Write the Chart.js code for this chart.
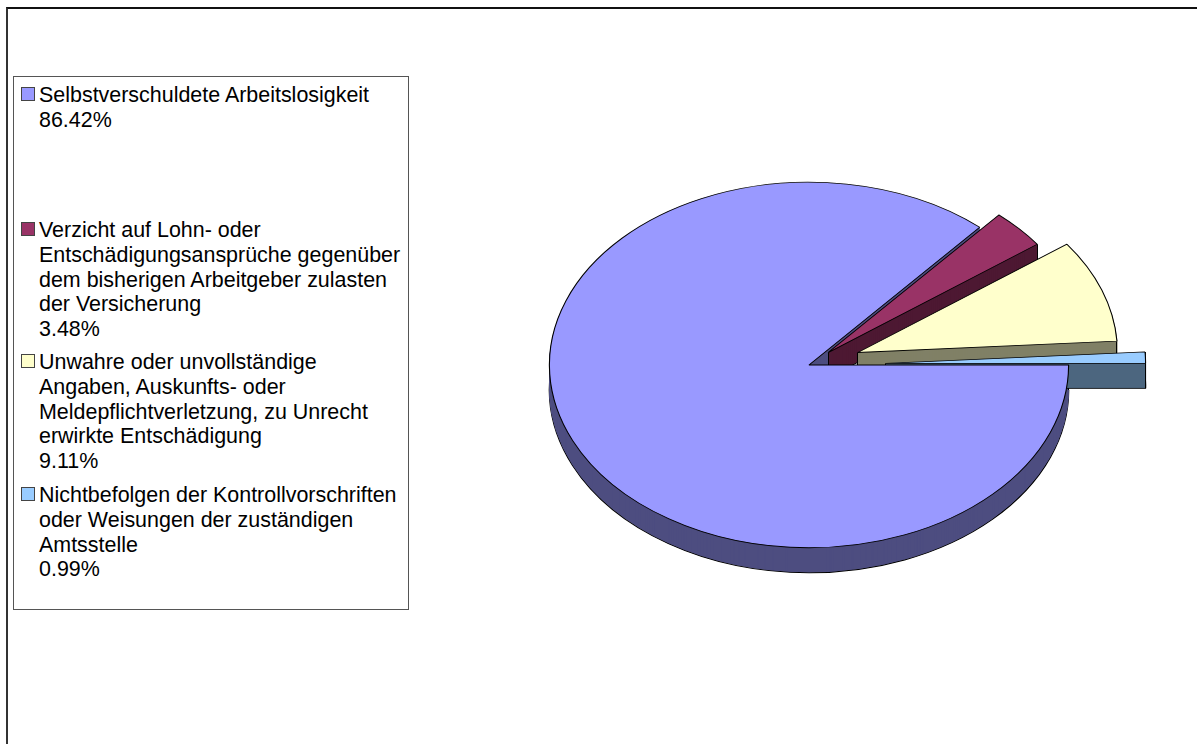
<!DOCTYPE html>
<html>
<head>
<meta charset="utf-8">
<script src="https://cdn.jsdelivr.net/npm/chart.js@4"></script>
<style>
html,body{margin:0;padding:0;background:#fff;width:1197px;height:744px;overflow:hidden}
#frame{position:absolute;left:6px;top:7px;width:1191px;height:737px;border-left:2px solid #333;border-top:2px solid #111;box-sizing:border-box}
#wrap{position:absolute;left:0;top:0;width:1197px;height:744px}
#legend{position:absolute;left:13px;top:76px;width:396px;height:534px;box-sizing:border-box;border:1px solid #555;background:#fff;font-family:"Liberation Sans",Arial,sans-serif;font-size:21.45px;line-height:24.8px;color:#000}
.item{position:absolute;left:25px;white-space:pre}
.sw{position:absolute;left:7px;width:14px;height:14px;box-sizing:border-box;border:1px solid #444}
</style>
</head>
<body>
<div id="frame"></div>
<div id="wrap"><canvas id="c" width="1197" height="744"></canvas></div>
<div id="legend"></div>
<script>
const categories = [
  ["Selbstverschuldete Arbeitslosigkeit"],
  ["Verzicht auf Lohn- oder", "Entschädigungsansprüche gegenüber", "dem bisherigen Arbeitgeber zulasten", "der Versicherung"],
  ["Unwahre oder unvollständige", "Angaben, Auskunfts- oder", "Meldepflichtverletzung, zu Unrecht", "erwirkte Entschädigung"],
  ["Nichtbefolgen der Kontrollvorschriften", "oder Weisungen der zuständigen", "Amtsstelle"]
];
const values = [86.42, 3.48, 9.11, 0.99];
const topColors = ["#9999FF", "#993366", "#FFFFCC", "#99CCFF"];
const wallColors = ["#4D4D80", "#4D1933", "#808066", "#4D6680"];
const explode = [0, 26, 52, 77];
const legendTops = [6, 141, 273, 406];

const TILT = 0.704, DEPTH = 25;

const legendEl = document.getElementById('legend');
categories.forEach((lines, i) => {
  const t = document.createElement('div');
  t.className = 'item';
  t.style.top = legendTops[i] + 'px';
  t.textContent = lines.concat(values[i].toFixed(2) + '%').join('\n');
  legendEl.appendChild(t);
  const s = document.createElement('div');
  s.className = 'sw';
  s.style.top = (legendTops[i] + 4) + 'px';
  s.style.background = topColors[i];
  legendEl.appendChild(s);
});

const pie3d = {
  id: 'pie3d',
  afterDatasetsUpdate(chart) {
    chart.getDatasetMeta(0).data.forEach((el, i) => {
      const mid = (el.startAngle + el.endAngle) / 2;
      el.x += Math.cos(mid) * explode[i];
      el.y += Math.sin(mid) * explode[i];
    });
  },
  beforeDatasetsDraw(chart) {
    const ctx = chart.ctx;
    const cy = (chart.chartArea.top + chart.chartArea.bottom) / 2;
    const tilt = () => { ctx.translate(0, cy); ctx.scale(1, TILT); ctx.translate(0, -cy); };
    chart.getDatasetMeta(0).data.forEach((el, i) => {
      const base = el.options;
      for (let d = DEPTH; d >= 1; d--) {
        ctx.save();
        ctx.translate(0, d);
        tilt();
        el.options = Object.assign({}, base, {
          backgroundColor: wallColors[i],
          borderColor: d === DEPTH ? '#000' : wallColors[i],
          borderWidth: d === DEPTH ? 1.4 : 1
        });
        el.draw(ctx);
        ctx.restore();
      }
      el.options = base;
      ctx.save();
      ctx.strokeStyle = '#000';
      ctx.lineWidth = 1;
      const sy = y => cy + (y - cy) * TILT;
      const pts = [[el.x, el.y],
        [el.x + el.outerRadius * Math.cos(el.startAngle), el.y + el.outerRadius * Math.sin(el.startAngle)],
        [el.x + el.outerRadius * Math.cos(el.endAngle), el.y + el.outerRadius * Math.sin(el.endAngle)]];
      pts.forEach((p, k) => {
        if (i === 0 && k !== 1) return;
        ctx.beginPath();
        ctx.moveTo(Math.floor(p[0]) + 0.5, sy(p[1]));
        ctx.lineTo(Math.floor(p[0]) + 0.5, sy(p[1]) + DEPTH);
        ctx.stroke();
      });
      ctx.restore();
    });
    ctx.save();
    tilt();
  },
  afterDatasetsDraw(chart) {
    chart.ctx.restore();
  }
};

new Chart(document.getElementById('c'), {
  type: 'pie',
  data: {
    labels: categories.map(l => l.join(' ')),
    datasets: [{
      data: values,
      backgroundColor: topColors,
      borderColor: '#000',
      borderWidth: 1.1,
      radius: 259.6
    }]
  },
  options: {
    responsive: false,
    animation: false,
    events: [],
    rotation: 90,
    layout: { padding: { left: 549, right: 128, top: 105, bottom: 119 } },
    plugins: { legend: { display: false }, tooltip: { enabled: false } }
  },
  plugins: [pie3d]
});
</script>
</body>
</html>
